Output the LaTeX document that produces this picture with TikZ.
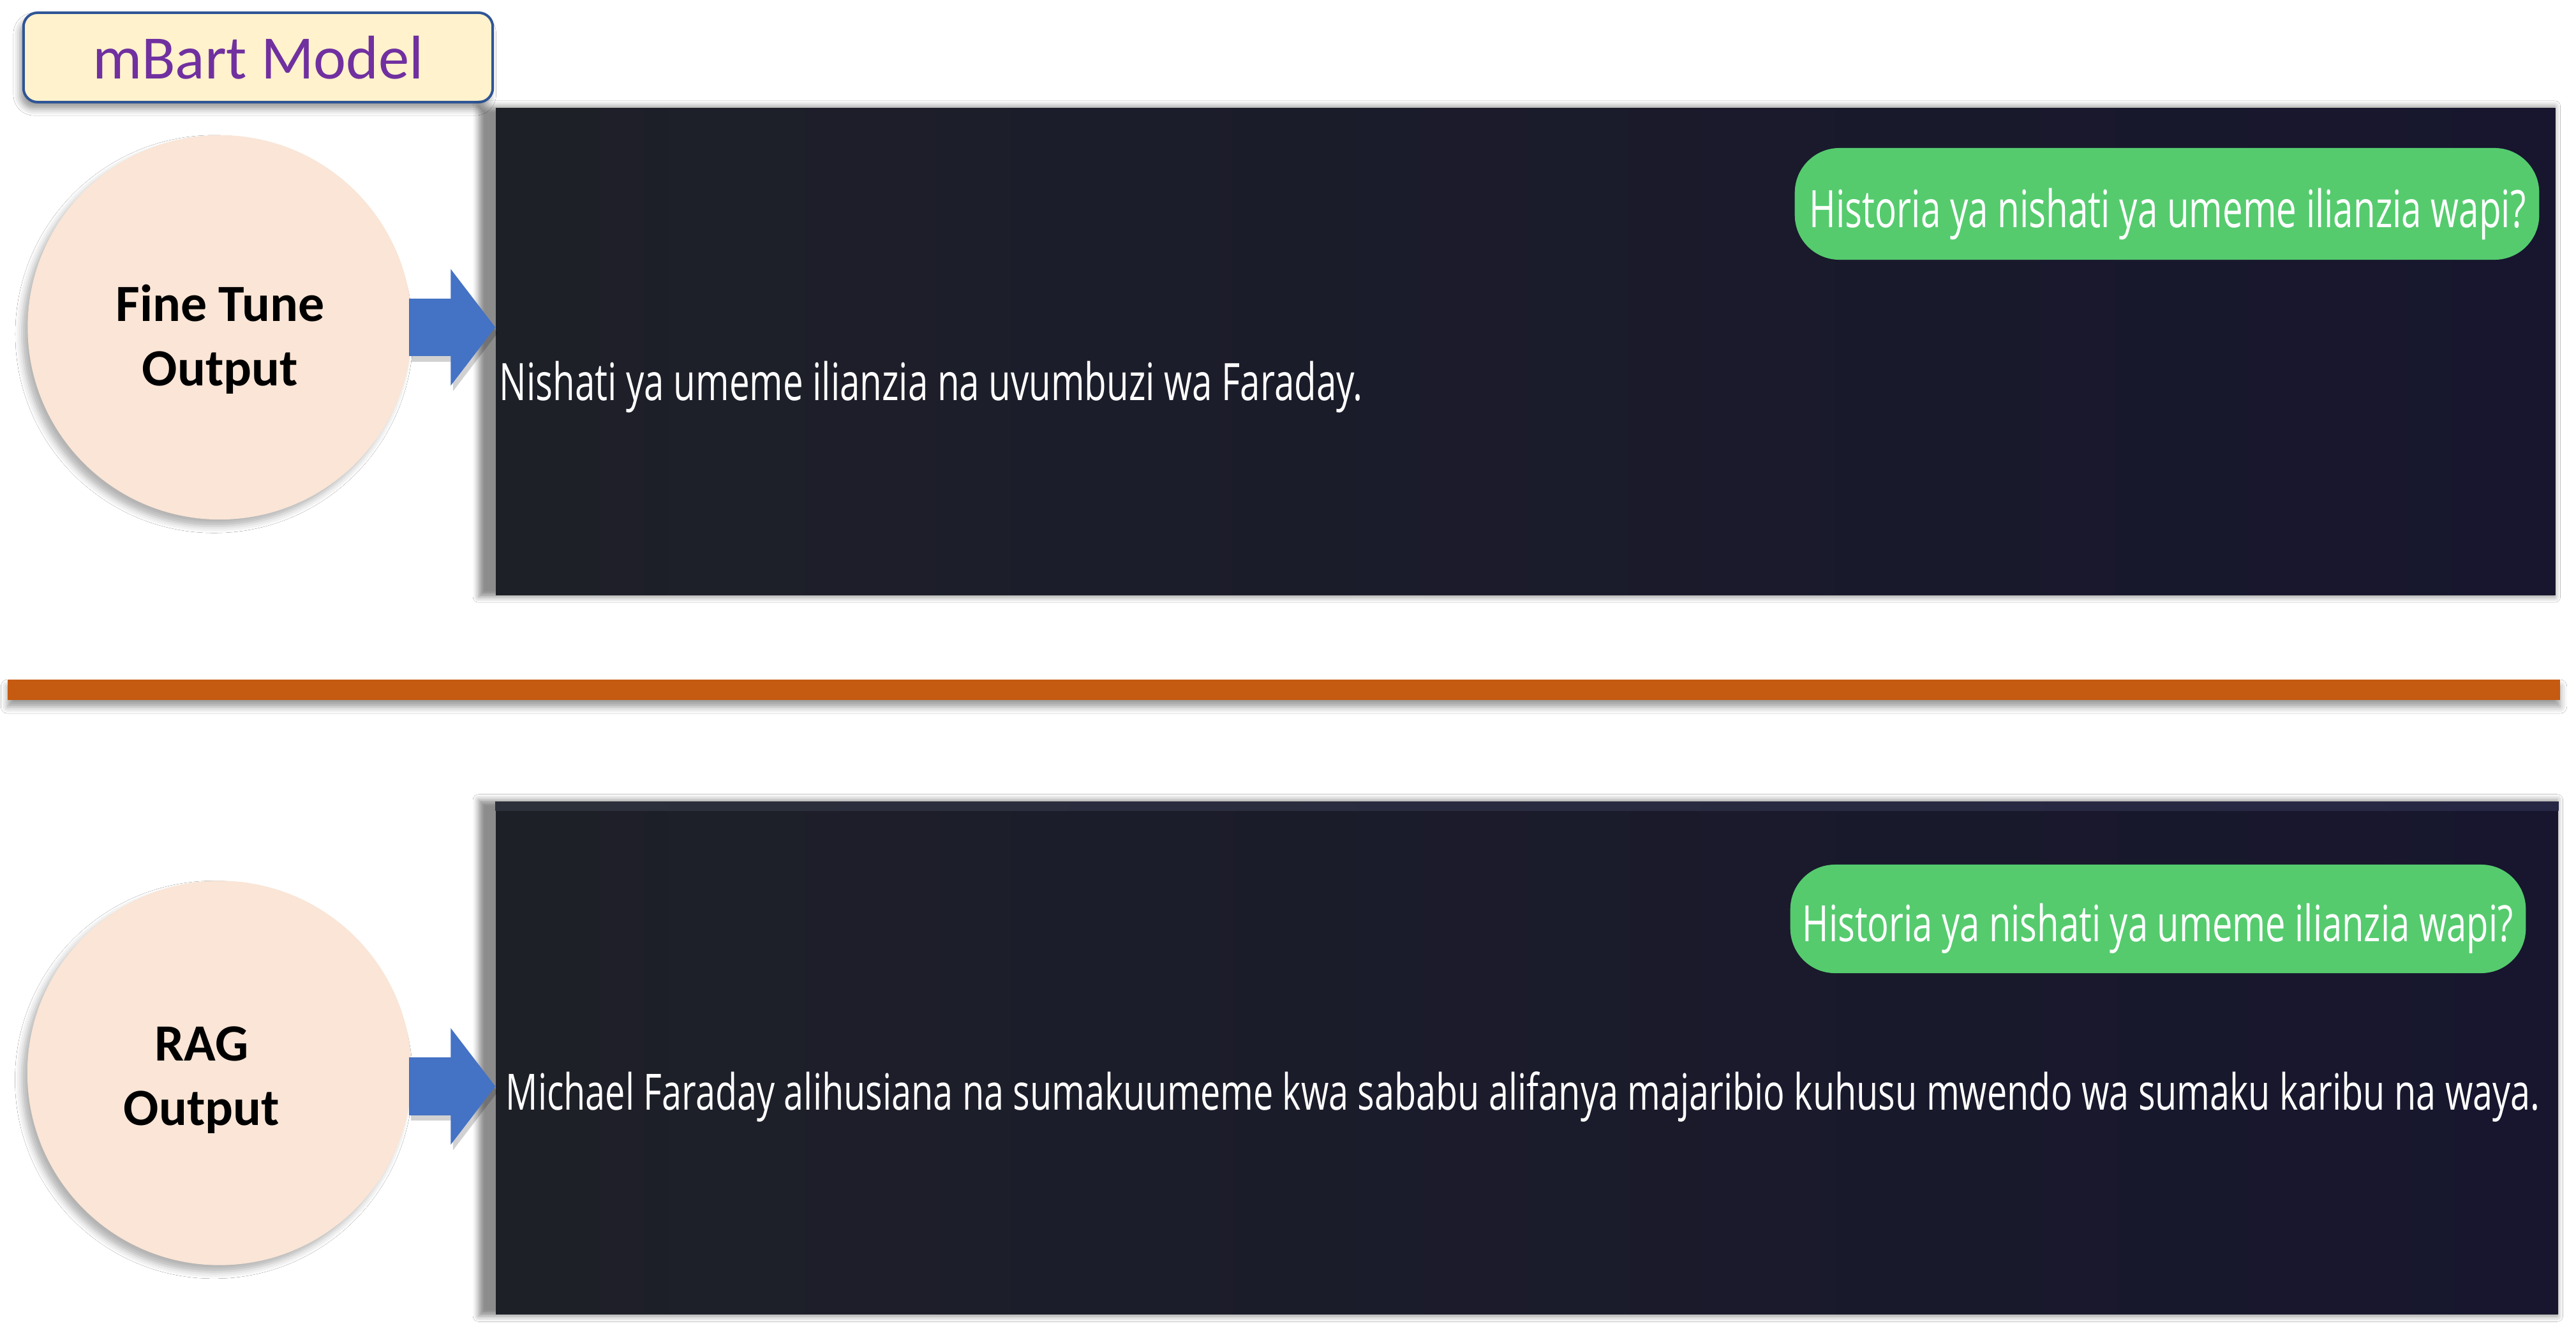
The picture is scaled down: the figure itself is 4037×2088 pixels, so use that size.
\documentclass[tikz,border=0pt]{standalone}
\usepackage{fontspec}
\setmainfont{Carlito}
\newfontfamily\chatfont{Open Sans}
\usetikzlibrary{shadows.blur,arrows.meta,calc}
\definecolor{titlefill}{HTML}{FFF2CC}
\definecolor{titleborder}{HTML}{2F5597}
\definecolor{titletext}{HTML}{7030A0}
\definecolor{peach}{HTML}{FAE5D6}
\definecolor{arrowblue}{HTML}{4472C4}
\definecolor{barorange}{HTML}{C55A11}
\definecolor{panelL}{HTML}{1E2028}
\definecolor{panelR}{HTML}{17162E}
\definecolor{bubblegreen}{HTML}{55CB6E}
\definecolor{stripL}{HTML}{2C303B}
\definecolor{stripR}{HTML}{262744}
\begin{document}
\begin{tikzpicture}[x=0.01cm,y=-0.01cm,
  titlebox/.style={draw=titleborder, line width=0.04cm, fill=titlefill, rounded corners=0.22cm,
    minimum width=7.35cm, minimum height=1.40cm, inner sep=0, text=titletext,
    font=\fontsize{27.5}{33}\selectfont,
    blur shadow={shadow xshift=-1.5pt, shadow yshift=-3pt, shadow blur radius=3pt}},
  outcircle/.style={circle, fill=peach, minimum size=6.02cm, inner sep=0,
    blur shadow={shadow xshift=-2.5pt, shadow yshift=-3pt, shadow blur radius=3pt, shadow opacity=30}},
  circlelabel/.style={align=center, anchor=base, inner sep=0,
    font=\bfseries\fontsize{23.3}{28.45}\selectfont},
  panel/.style={rectangle, inner sep=0, left color=panelL, right color=panelR,
    blur shadow={shadow xshift=-4pt, shadow yshift=0pt, shadow scale=1.008,
      shadow blur radius=2.5pt, shadow opacity=45}},
  bubblebox/.style={rectangle, rounded corners=0.7cm, fill=bubblegreen, inner sep=0},
  chattext/.style={anchor=base west, inner sep=0, text=white,
    font=\chatfont\fontsize{23}{28}\selectfont},
  bar/.style={rectangle, inner sep=0, fill=barorange, minimum width=39.98cm, minimum height=0.32cm,
    blur shadow={shadow xshift=0pt, shadow yshift=-3pt, shadow blur radius=3pt}},
  bigarrow/.style={draw=arrowblue, line width=0.9cm, -{Triangle[length=0.7cm, width=1.79cm]},
    shorten <=-0.05cm},
  arrowshadow/.style={draw=black, opacity=0.18, line width=0.9cm,
    -{Triangle[length=0.7cm, width=1.79cm]}, shorten <=-0.05cm}
]
\useasboundingbox (0,0) rectangle (4037,2088);
\fill[white] (0,0) rectangle (4037,2088);

% title
\node[titlebox] (title) at (404.5,90) {mBart Model};

% panels
\node[panel, minimum width=32.26cm, minimum height=7.62cm] (p1) at (2391,551) {};
\node[panel, minimum width=32.30cm, minimum height=8.02cm] (p2) at (2393,1658) {};
\fill[left color=stripL, right color=stripR] (p2.north west) rectangle ($(p2.north east)+(0,14)$);

% bubbles
\node[bubblebox, minimum width=11.66cm, minimum height=1.75cm] (b1) at (3396,319.5) {};
\node[bubblebox, minimum width=11.52cm, minimum height=1.70cm] (b2) at (3382,1440) {};

% chat texts
\node[chattext] (q1) at (2835,356) {\resizebox{11.22cm}{\height}{Historia ya nishati ya umeme ilianzia wapi?}};
\node[chattext] (a1) at (782,627) {\resizebox{13.52cm}{\height}{Nishati ya umeme ilianzia na uvumbuzi wa Faraday.}};
\node[chattext, font=\chatfont\fontsize{22.3}{27}\selectfont] (q2) at (2824,1475) {\resizebox{11.13cm}{\height}{Historia ya nishati ya umeme ilianzia wapi?}};
\node[chattext, font=\chatfont\fontsize{22.3}{27}\selectfont] (a2) at (792,1739) {\resizebox{31.86cm}{\height}{Michael Faraday alihusiana na sumakuumeme kwa sababu alifanya majaribio kuhusu mwendo wa sumaku karibu na waya.}};

% separator bar
\node[bar] (sep) at (2012,1081) {};

% circles
\node[outcircle] (c1) at (344.5,513) {};
\node[circlelabel] (c1t) at (345,604) {Fine Tune\\Output};
\node[outcircle] (c2) at (344,1681.5) {};
\node[circlelabel] (c2t) at (316,1763) {RAG\\Output};

% arrows
\coordinate (s2) at ($(c2.east)+(0,21)$);
\draw[arrowshadow, transform canvas={xshift=1pt, yshift=-2.5pt}] (c1.east) -- (c1.east -| p1.west);
\draw[arrowshadow, transform canvas={xshift=1pt, yshift=-2.5pt}] (s2) -- (s2 -| p2.west);
\draw[bigarrow] (c1.east) -- (c1.east -| p1.west);
\draw[bigarrow] (s2) -- (s2 -| p2.west);
\end{tikzpicture}
\end{document}
